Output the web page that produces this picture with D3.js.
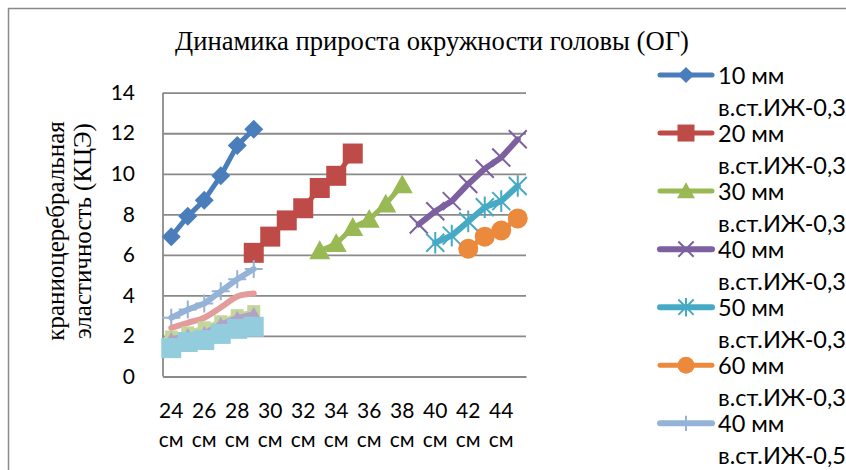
<!DOCTYPE html>
<html>
<head>
<meta charset="utf-8">
<script src="https://cdn.jsdelivr.net/npm/d3@7/dist/d3.min.js"></script>
<style>
  html, body { margin: 0; padding: 0; background: #fff; }
  svg { display: block; }
  .serif { font-family: "Liberation Serif", "Times New Roman", "DejaVu Serif", serif; }
  .sans { font-family: Lato, "Open Sans", sans-serif; }
</style>
</head>
<body>
<svg id="chart" width="846" height="470"></svg>
<script>
// Categories: head circumference, one per centimetre
const categories = ["24 см","25 см","26 см","27 см","28 см","29 см","30 см","31 см","32 см","33 см","34 см",
                    "35 см","36 см","37 см","38 см","39 см","40 см","41 см","42 см","43 см","44 см","45 см"];
// Every other category carries a label
const xTickLabels = ["24 см","26 см","28 см","30 см","32 см","34 см","36 см","38 см","40 см","42 см","44 см"];
const yTicks = [0, 2, 4, 6, 8, 10, 12, 14];

const chartTitle = "Динамика прироста окружности головы (ОГ)";
const yTitleLines = ["краниоцеребральная", "эластичность (КЦЭ)"];

// Series: name, first category, values
const names = ["10 мм в.ст.ИЖ-0,3", "20 мм в.ст.ИЖ-0,3", "30 мм в.ст.ИЖ-0,3", "40 мм в.ст.ИЖ-0,3",
               "50 мм в.ст.ИЖ-0,3", "60 мм в.ст.ИЖ-0,3", "40 мм в.ст.ИЖ-0,5"];
const v10mm = [6.9, 7.9, 8.7, 9.9, 11.4, 12.2];
const v20mm = [6.1, 6.9, 7.7, 8.3, 9.3, 9.9, 11.0];
const v30mm = [6.2, 6.55, 7.35, 7.75, 8.5, 9.45];
const v40mm = [7.5, 8.15, 8.65, 9.5, 10.25, 10.8, 11.7];
const v50mm = [6.6, 6.95, 7.65, 8.35, 8.65, 9.4];
const v60mm = [6.3, 6.9, 7.2, 7.8];
const v40mm05 = [2.9, 3.3, 3.6, 4.2, 4.8, 5.3];
const v8 = [2.4, 2.65, 2.9, 3.4, 3.95, 4.1];
const v9 = [1.95, 2.15, 2.4, 2.7, 3.0, 3.2];
const v10 = [1.85, 2.05, 2.15, 2.6, 2.9, 3.1];
const v11 = [1.4, 1.7, 1.8, 2.1, 2.35, 2.45];

const series = [
  { start: "24 см", values: v10mm,   color: "#4A7EBB", marker: "diamond", r: 9.5, lw: 5 },
  { start: "29 см", values: v20mm,   color: "#BE4B48", marker: "square",  r: 10,  lw: 5 },
  { start: "33 см", values: v30mm,   color: "#98B954", marker: "triangle",r: 10.5,lw: 5 },
  { start: "39 см", values: v40mm,   color: "#7D60A0", marker: "x",       r: 9,   lw: 6 },
  { start: "40 см", values: v50mm,   color: "#46AAC5", marker: "star",    r: 9,   lw: 6 },
  { start: "42 см", values: v60mm,   color: "#EB8A3C", marker: "circle",  r: 10,  lw: 5 },
  { start: "24 см", values: v40mm05, color: "#95B3D7", marker: "plus",    r: 9,   lw: 6 },
  { start: "24 см", values: v8,      color: "#E39C9A", marker: "none",    r: 0,   lw: 6, smooth: true },
  { start: "24 см", values: v9,      color: "#C3D69B", marker: "square",  r: 6.5, lw: 5 },
  { start: "24 см", values: v10,     color: "#B3A2C7", marker: "triangle",r: 7,   lw: 5 },
  { start: "24 см", values: v11,     color: "#93CDDD", marker: "square",  r: 10,  lw: 5 }
];
series.forEach((s, i) => { s.name = names[i] || null; });

const svg = d3.select("#chart");

// Outer chart frame
svg.append("rect")
  .attr("x", 8.5).attr("y", 8.5).attr("width", 900).attr("height", 520)
  .attr("fill", "#fff").attr("stroke", "#8a8a8a").attr("stroke-width", 1.5);

const plot = { left: 163, right: 526, top: 92.7, bottom: 376.5 };

const x = d3.scaleBand().domain(categories).range([plot.left, plot.right]).padding(0);
const y = d3.scaleLinear().domain([0, 14]).range([plot.bottom, plot.top]);
const cx = c => x(c) + x.bandwidth() / 2;

// Gridlines + value axis labels
const yAxis = d3.axisLeft(y).tickValues(yTicks).tickSize(-(plot.right - plot.left));
const gy = svg.append("g").attr("transform", `translate(${plot.left},0)`).call(yAxis);
gy.select(".domain").remove();
gy.selectAll(".tick line").attr("stroke", "#8a8a8a").attr("stroke-width", 1.8);
gy.selectAll(".tick text")
  .attr("x", -28).attr("text-anchor", "end").attr("class", "sans")
  .attr("font-family", null).attr("font-size", 21).attr("fill", "#000");

// Vertical axis line
svg.append("line")
  .attr("x1", plot.left).attr("x2", plot.left)
  .attr("y1", plot.top).attr("y2", plot.bottom)
  .attr("stroke", "#8a8a8a").attr("stroke-width", 1.8);

// Category axis with two-line labels
const xAxis = d3.axisBottom(x).tickValues(xTickLabels).tickSize(0).tickFormat("");
const gx = svg.append("g").attr("transform", `translate(0,${plot.bottom})`).call(xAxis);
gx.attr("font-family", null);
gx.select(".domain").attr("stroke", "#8a8a8a").attr("stroke-width", 1.8);
gx.selectAll(".tick").each(function(d) {
  const parts = d.split(" ");
  const t = d3.select(this).append("text")
    .attr("text-anchor", "middle").attr("class", "sans")
    .attr("font-size", 21).attr("fill", "#000");
  t.append("tspan").attr("x", 0).attr("y", 41).text(parts[0]);
  t.append("tspan").attr("x", 0).attr("y", 70).text(parts[1]);
});

// Marker shapes
function markerPath(type, r) {
  switch (type) {
    case "diamond": return `M0,${-r}L${r},0L0,${r}L${-r},0Z`;
    case "square":  return `M${-r},${-r}H${r}V${r}H${-r}Z`;
    case "triangle":return `M0,${-r}L${r},${r * 0.8}L${-r},${r * 0.8}Z`;
    case "circle":  return d3.arc()({ innerRadius: 0, outerRadius: r, startAngle: 0, endAngle: 2 * Math.PI });
    case "x":       return `M${-r},${-r}L${r},${r}M${r},${-r}L${-r},${r}`;
    case "star":    return `M${-r},${-r}L${r},${r}M${r},${-r}L${-r},${r}M0,${-r * 1.2}V${r * 1.2}`;
    case "plus":    return `M${-r},0H${r}M0,${-r}V${r}`;
    default: return "";
  }
}
const stroked = t => t === "x" || t === "star" || t === "plus";

function drawMarker(g, s, px, py) {
  if (s.marker === "none") return;
  const p = g.append("path").attr("d", markerPath(s.marker, s.r))
    .attr("transform", `translate(${px},${py})`);
  if (stroked(s.marker)) p.attr("fill", "none").attr("stroke", s.color).attr("stroke-width", 2);
  else p.attr("fill", s.color).attr("stroke", "none");
}

// Series lines and markers
const gSeries = svg.append("g");
series.forEach(s => {
  const i0 = categories.indexOf(s.start);
  const pts = s.values.map((v, k) => ({ c: categories[i0 + k], v }));
  const line = d3.line().x(d => cx(d.c)).y(d => y(d.v))
    .curve(s.smooth ? d3.curveCardinal.tension(0) : d3.curveLinear);
  const g = gSeries.append("g");
  g.append("path").attr("d", line(pts))
    .attr("fill", "none").attr("stroke", s.color).attr("stroke-width", s.lw)
    .attr("stroke-linejoin", "round").attr("stroke-linecap", "round");
  pts.forEach(d => drawMarker(g, s, cx(d.c), y(d.v)));
});

// Title
svg.append("text")
  .attr("x", 432).attr("y", 50).attr("text-anchor", "middle").attr("class", "serif")
  .attr("font-size", 26.6).attr("fill", "#000")
  .text(chartTitle);

// Value axis title (two lines, rotated)
const yt = svg.append("text")
  .attr("transform", "translate(0,231) rotate(-90)")
  .attr("text-anchor", "middle").attr("class", "serif")
  .attr("font-size", 25).attr("fill", "#000");
yt.append("tspan").attr("x", 0).attr("y", 64).text(yTitleLines[0]);
yt.append("tspan").attr("x", 0).attr("y", 91).text(yTitleLines[1]);

// Legend
const legend = svg.append("g");
series.filter(s => s.name).forEach((s, i) => {
  const cy = 75 + i * 58.05;
  const g = legend.append("g");
  g.append("line").attr("x1", 660).attr("x2", 712).attr("y1", cy).attr("y2", cy)
    .attr("stroke", s.color).attr("stroke-width", s.lw).attr("stroke-linecap", "round");
  drawMarker(g, Object.assign({}, s, { r: s.r * 0.85 }), 686, cy);
  const parts = s.name.split(" ");
  const t = g.append("text").attr("class", "sans").attr("font-size", 23.5).attr("fill", "#000")
    .attr("dominant-baseline", "central");
  t.append("tspan").attr("x", 718).attr("y", cy).text(parts[0] + " " + parts[1]);
  t.append("tspan").attr("x", 718).attr("y", cy + 31.7).text(parts[2]);
});
</script>
</body>
</html>
